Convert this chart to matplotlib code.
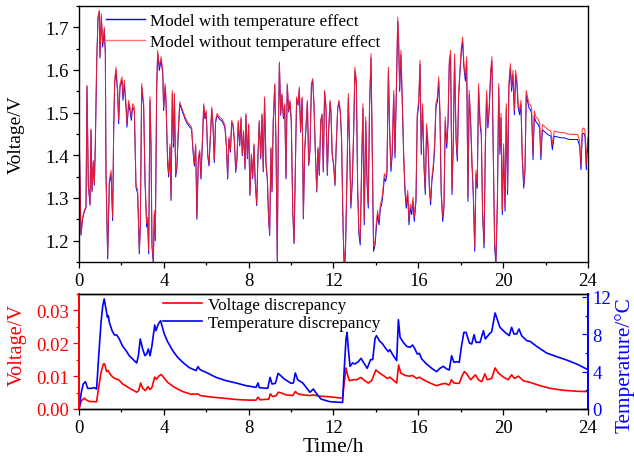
import numpy as np
import matplotlib
matplotlib.use("Agg")
from matplotlib import pyplot as plt
from matplotlib.ticker import MultipleLocator
from matplotlib.lines import Line2D

plt.rcParams['font.family'] = ['Liberation Serif', 'DejaVu Serif']
plt.rcParams['mathtext.fontset'] = 'stix'

# ---- top panel: model voltage ----
t_top = [
    0.0, 0.094, 0.173, 0.251, 0.330, 0.377, 0.440, 0.519, 0.566, 0.613, 0.676, 0.723, 0.770, 0.833, 0.896,
    0.959, 0.990, 1.053, 1.116, 1.194, 1.242, 1.273, 1.352, 1.430, 1.509, 1.587, 1.634, 1.682, 1.744, 1.823,
    1.870, 1.933, 2.027, 2.074, 2.137, 2.216, 2.263, 2.342, 2.405, 2.467, 2.530, 2.609, 2.687, 2.766, 2.845,
    2.892, 2.955, 3.049, 3.112, 3.190, 3.237, 3.285, 3.348, 3.395, 3.442, 3.505, 3.552, 3.599, 3.662, 3.709,
    3.788,
    3.87, 3.95, 3.99, 4.06, 4.10, 4.18, 4.23, 4.29, 4.34, 4.40, 4.46, 4.50, 4.56, 4.62, 4.68,
    4.75, 4.89, 5.00, 5.12, 5.25, 5.31, 5.38, 5.44, 5.50, 5.56, 5.63, 5.69, 5.75, 5.82, 5.88,
    5.94, 6.00, 6.07, 6.13, 6.19, 6.26, 6.32, 6.38, 6.44, 6.51, 6.62, 6.73, 6.82, 6.88, 6.95,
    7.01, 7.07, 7.14, 7.20, 7.26, 7.32, 7.39, 7.45, 7.51, 7.58, 7.64, 7.70, 7.76, 7.83,
    7.87, 7.94, 8.00, 8.06, 8.13, 8.19, 8.25, 8.31, 8.38, 8.44, 8.50, 8.57, 8.63, 8.69, 8.75,
    8.82, 8.88, 8.94, 8.99, 9.05, 9.10, 9.16, 9.23, 9.29, 9.35, 9.40, 9.45, 9.51, 9.57, 9.64,
    9.70, 9.76, 9.82, 9.89, 9.95, 10.01, 10.08, 10.14, 10.20, 10.26, 10.33, 10.39, 10.45, 10.52, 10.58,
    10.64, 10.70, 10.77, 10.83, 10.89, 10.96, 11.02, 11.08, 11.14, 11.21, 11.27, 11.33, 11.40, 11.46, 11.52,
    11.58, 11.65, 11.71, 11.77, 11.84,
    11.88, 11.94, 12.01, 12.07, 12.13, 12.20, 12.26, 12.32, 12.38, 12.45, 12.51, 12.57, 12.64, 12.70, 12.76,
    12.82, 12.89, 12.95, 13.01, 13.08, 13.14, 13.20, 13.26, 13.33, 13.39, 13.45, 13.52, 13.58, 13.64, 13.70,
    13.77, 13.83, 13.89, 13.96, 14.02, 14.08, 14.15, 14.21, 14.27, 14.33, 14.40, 14.46, 14.52, 14.59, 14.65,
    14.71, 14.77, 14.84, 14.90, 14.96, 15.03, 15.07, 15.12, 15.18, 15.25, 15.31, 15.37, 15.43, 15.50, 15.56,
    15.62, 15.69, 15.75, 15.81,
    15.89, 15.95, 16.02, 16.08, 16.14, 16.20, 16.27, 16.33, 16.39, 16.46, 16.52, 16.58, 16.64, 16.71, 16.77,
    16.83, 16.90, 16.96, 17.02, 17.08, 17.15, 17.21, 17.27, 17.34, 17.40, 17.46, 17.52, 17.59, 17.65, 17.71,
    17.78, 17.84, 17.90, 17.96, 18.03, 18.09, 18.15, 18.22, 18.28, 18.34, 18.40, 18.47, 18.53, 18.59, 18.66,
    18.72, 18.78, 18.84, 18.91, 18.97, 19.03, 19.10, 19.16, 19.22, 19.28, 19.35, 19.41, 19.47, 19.54, 19.60,
    19.66, 19.73, 19.79, 19.85,
    19.90, 19.96, 20.02, 20.09, 20.15, 20.21, 20.27, 20.34, 20.40, 20.46, 20.53, 20.59, 20.65, 20.71, 20.78,
    20.84, 20.90, 20.97, 21.03, 21.09, 21.15, 21.22, 21.28, 21.34, 21.41, 21.47, 21.53, 21.59, 21.66, 21.72,
    21.78, 21.85, 21.94, 22.10, 22.25, 22.32, 22.41, 22.57, 22.73, 22.88, 23.04, 23.20, 23.35, 23.51, 23.61,
    23.67, 23.73, 23.80, 23.86, 23.92, 23.98, 24.0,
]

v_no_temp = [
    1.478, 1.216, 1.255, 1.271, 1.280, 1.564, 1.333, 1.286, 1.462, 1.318, 1.388, 1.333, 1.427, 1.615, 1.724,
    1.740, 1.631, 1.732, 1.662, 1.701, 1.646, 1.365, 1.165, 1.341, 1.365, 1.255, 1.458, 1.576, 1.607, 1.552,
    1.482, 1.568, 1.584, 1.537, 1.576, 1.521, 1.474, 1.529, 1.513, 1.490, 1.521, 1.513, 1.333, 1.318, 1.177,
    1.240, 1.568, 1.521, 1.349, 1.240, 1.255, 1.177, 1.537, 1.427, 1.193, 1.154, 1.271, 1.208, 1.560, 1.646,
    1.607,
    1.631, 1.599, 1.513, 1.568, 1.537, 1.388, 1.357, 1.427, 1.302, 1.552, 1.427, 1.545, 1.357, 1.380, 1.458,
    1.525, 1.505, 1.490, 1.478, 1.470, 1.466, 1.412, 1.380, 1.427, 1.255, 1.396, 1.412, 1.349, 1.435, 1.521,
    1.490, 1.505, 1.404, 1.380, 1.443, 1.513, 1.474, 1.388, 1.482, 1.498, 1.490, 1.486, 1.478, 1.470, 1.427,
    1.349, 1.443, 1.412, 1.482, 1.474, 1.443, 1.365, 1.396, 1.482, 1.427, 1.490, 1.404, 1.458, 1.372,
    1.498, 1.396, 1.474, 1.310, 1.404, 1.349, 1.427, 1.341, 1.286, 1.404, 1.482, 1.396, 1.498, 1.365, 1.537,
    1.380, 1.349, 1.255, 1.216, 1.419, 1.318, 1.482, 1.568, 1.427, 1.154, 1.458, 1.619, 1.498, 1.545, 1.490,
    1.521, 1.349, 1.568, 1.505, 1.529, 1.482, 1.271, 1.197, 1.365, 1.537, 1.521, 1.560, 1.458, 1.537, 1.255,
    1.412, 1.466, 1.529, 1.380, 1.412, 1.568, 1.580, 1.521, 1.419, 1.318, 1.419, 1.357, 1.482, 1.498, 1.365,
    1.552, 1.513, 1.357, 1.458, 1.529,
    1.505, 1.404, 1.380, 1.333, 1.427, 1.513, 1.529, 1.505, 1.443, 1.240, 1.130, 1.193, 1.365, 1.545, 1.427,
    1.286, 1.349, 1.458, 1.607, 1.576, 1.326, 1.224, 1.200, 1.388, 1.521, 1.247, 1.490, 1.349, 1.286, 1.521,
    1.638, 1.404, 1.185, 1.200, 1.240, 1.271, 1.247, 1.286, 1.294, 1.318, 1.357, 1.349, 1.365, 1.607, 1.458,
    1.372, 1.412, 1.552, 1.404, 1.545, 1.724, 1.677, 1.560, 1.646, 1.521, 1.404, 1.326, 1.286, 1.318, 1.247,
    1.286, 1.271, 1.302, 1.255,
    1.302, 1.498, 1.529, 1.623, 1.412, 1.521, 1.380, 1.318, 1.474, 1.427, 1.333, 1.294, 1.349, 1.380, 1.427,
    1.521, 1.537, 1.584, 1.505, 1.318, 1.255, 1.286, 1.490, 1.427, 1.482, 1.623, 1.646, 1.318, 1.443, 1.638,
    1.443, 1.396, 1.545, 1.599, 1.654, 1.677, 1.615, 1.584, 1.631, 1.302, 1.552, 1.482, 1.388, 1.318, 1.185,
    1.365, 1.333, 1.568, 1.482, 1.458, 1.271, 1.193, 1.427, 1.552, 1.474, 1.521, 1.599, 1.631, 1.396, 1.193,
    1.154, 1.302, 1.568, 1.412,
    1.498, 1.271, 1.427, 1.279, 1.521, 1.318, 1.568, 1.615, 1.560, 1.599, 1.505, 1.599, 1.576, 1.521, 1.505,
    1.529, 1.404, 1.333, 1.372, 1.552, 1.537, 1.521, 1.519, 1.511, 1.402, 1.504, 1.492, 1.488, 1.484, 1.476,
    1.402, 1.472, 1.468, 1.461, 1.457, 1.425, 1.457, 1.455, 1.453, 1.453, 1.450, 1.449, 1.449, 1.449, 1.433,
    1.378, 1.461, 1.464, 1.457, 1.378, 1.441, 1.418,
]

v_temp = [
    1.475, 1.213, 1.252, 1.268, 1.277, 1.561, 1.330, 1.283, 1.459, 1.315, 1.385, 1.330, 1.424, 1.612, 1.721,
    1.737, 1.628, 1.724, 1.654, 1.693, 1.638, 1.357, 1.157, 1.333, 1.357, 1.247, 1.450, 1.568, 1.599, 1.544,
    1.474, 1.560, 1.576, 1.529, 1.568, 1.513, 1.466, 1.521, 1.505, 1.482, 1.513, 1.505, 1.325, 1.310, 1.169,
    1.232, 1.560, 1.513, 1.341, 1.232, 1.247, 1.169, 1.529, 1.419, 1.185, 1.146, 1.263, 1.200, 1.552, 1.638,
    1.599,
    1.623, 1.591, 1.505, 1.560, 1.529, 1.380, 1.349, 1.419, 1.294, 1.544, 1.419, 1.537, 1.349, 1.372, 1.450,
    1.520, 1.500, 1.485, 1.473, 1.465, 1.461, 1.407, 1.375, 1.422, 1.250, 1.391, 1.407, 1.344, 1.430, 1.516,
    1.485, 1.500, 1.399, 1.375, 1.438, 1.508, 1.469, 1.383, 1.477, 1.493, 1.485, 1.481, 1.473, 1.465, 1.422,
    1.344, 1.438, 1.407, 1.477, 1.469, 1.438, 1.360, 1.391, 1.477, 1.422, 1.485, 1.399, 1.453, 1.367,
    1.494, 1.392, 1.470, 1.306, 1.400, 1.345, 1.423, 1.337, 1.282, 1.400, 1.478, 1.392, 1.494, 1.361, 1.533,
    1.376, 1.345, 1.251, 1.212, 1.415, 1.314, 1.478, 1.564, 1.423, 1.150, 1.454, 1.615, 1.494, 1.541, 1.486,
    1.517, 1.345, 1.564, 1.501, 1.525, 1.478, 1.267, 1.193, 1.361, 1.533, 1.517, 1.556, 1.454, 1.533, 1.251,
    1.408, 1.462, 1.525, 1.376, 1.408, 1.564, 1.576, 1.517, 1.415, 1.314, 1.415, 1.353, 1.478, 1.494, 1.361,
    1.548, 1.509, 1.353, 1.454, 1.525,
    1.501, 1.400, 1.376, 1.329, 1.423, 1.509, 1.525, 1.501, 1.439, 1.236, 1.120, 1.183, 1.355, 1.535, 1.417,
    1.276, 1.339, 1.448, 1.597, 1.566, 1.316, 1.214, 1.190, 1.378, 1.511, 1.237, 1.480, 1.339, 1.276, 1.511,
    1.628, 1.394, 1.175, 1.190, 1.230, 1.261, 1.237, 1.276, 1.284, 1.308, 1.347, 1.339, 1.355, 1.597, 1.448,
    1.362, 1.402, 1.542, 1.394, 1.535, 1.714, 1.667, 1.550, 1.636, 1.511, 1.394, 1.316, 1.276, 1.308, 1.237,
    1.276, 1.261, 1.292, 1.245,
    1.292, 1.488, 1.519, 1.613, 1.402, 1.511, 1.370, 1.308, 1.464, 1.417, 1.323, 1.284, 1.339, 1.370, 1.417,
    1.511, 1.527, 1.574, 1.495, 1.308, 1.245, 1.276, 1.480, 1.417, 1.472, 1.613, 1.636, 1.308, 1.433, 1.628,
    1.433, 1.386, 1.535, 1.589, 1.644, 1.667, 1.605, 1.574, 1.621, 1.292, 1.542, 1.472, 1.378, 1.308, 1.175,
    1.355, 1.323, 1.558, 1.472, 1.448, 1.261, 1.183, 1.417, 1.542, 1.464, 1.511, 1.589, 1.621, 1.386, 1.183,
    1.144, 1.292, 1.558, 1.402,
    1.488, 1.261, 1.417, 1.269, 1.511, 1.308, 1.558, 1.605, 1.550, 1.589, 1.495, 1.589, 1.566, 1.511, 1.495,
    1.519, 1.394, 1.323, 1.362, 1.542, 1.527, 1.511, 1.507, 1.499, 1.390, 1.492, 1.480, 1.476, 1.472, 1.464,
    1.390, 1.460, 1.456, 1.449, 1.445, 1.413, 1.445, 1.443, 1.441, 1.441, 1.438, 1.437, 1.437, 1.437, 1.421,
    1.366, 1.449, 1.452, 1.445, 1.366, 1.429, 1.406,
]

# ---- bottom panel: temperature discrepancy (right axis) ----
t_temp = [
    0.0, 0.11, 0.20, 0.30, 0.41, 0.57, 0.72, 0.83, 0.93, 1.04, 1.12, 1.19, 1.27, 1.34, 1.38, 1.43, 1.56, 1.67,
    1.78, 1.90, 2.06, 2.22, 2.37, 2.53, 2.72, 2.80, 2.89, 3.00, 3.11, 3.19, 3.27, 3.35, 3.44, 3.57, 3.63, 3.74,
    3.85, 3.91, 4.02, 4.18, 4.42, 4.65, 4.89, 5.20, 5.52, 5.61, 5.71, 5.99, 6.46, 6.93, 7.40, 7.88, 8.35, 8.44,
    8.50, 8.90, 9.01, 9.10, 9.26, 9.39, 9.48, 9.68, 10.00, 10.11, 10.20, 10.31, 10.55, 10.71, 10.89, 11.05,
    11.18, 11.41, 11.81, 12.31, 12.43, 12.49, 12.59, 12.64, 12.70, 12.78, 12.90, 13.01, 13.17, 13.30, 13.41,
    13.59, 13.75, 13.85, 13.96, 14.03, 14.16, 14.32, 14.48, 14.59, 14.66, 14.82, 14.98, 15.06, 15.14, 15.29,
    15.45, 15.61, 15.73, 15.84, 15.95, 16.05, 16.16, 16.39, 16.63, 16.86, 17.02, 17.18, 17.34, 17.46, 17.57,
    17.68, 17.81, 17.93, 18.04, 18.15, 18.25, 18.41, 18.52, 18.63, 18.72, 18.91, 19.07, 19.16, 19.35, 19.46,
    19.54, 19.62, 19.73, 19.85, 20.09, 20.29, 20.40, 20.51, 20.64, 20.75, 20.87, 21.11, 21.27, 21.58, 22.05,
    22.52, 22.99, 23.47, 24.0,
]
temp_diff = [
    0.0, 1.79, 2.68, 2.93, 2.21, 2.21, 2.29, 2.14, 5.71, 9.29, 11.07, 11.79, 10.71, 9.82, 10.0, 9.29, 8.39, 7.93,
    7.93, 7.5, 6.71, 6.25, 5.71, 5.36, 4.93, 5.71, 7.5, 6.43, 5.71, 5.89, 6.43, 5.71, 6.79, 9.0, 8.39, 9.11,
    9.46, 8.93, 8.04, 7.21, 6.25, 5.54, 5.0, 4.43, 4.11, 4.54, 4.21, 3.93, 3.39, 3.04, 2.79, 2.5, 2.32, 2.79,
    2.29, 2.21, 3.39, 2.68, 2.75, 3.82, 3.64, 3.21, 2.75, 2.79, 3.86, 3.14, 2.79, 2.32, 1.79, 2.14,
    1.71, 1.07, 0.79, 0.71, 0.71, 3.57, 7.5, 8.21, 6.43, 4.57, 4.93, 4.82, 5.07, 5.43, 5.0,
    4.36, 5.29, 5.29, 7.57, 7.86, 7.32, 6.96, 6.43, 6.14, 6.36, 5.71, 5.18, 9.57, 7.68, 7.14,
    6.71, 6.61, 6.86, 6.43, 5.89, 5.96, 5.36, 4.82, 4.36, 4.0, 4.36, 4.57, 4.29, 4.18, 5.71,
    5.0, 5.07, 5.0, 6.79, 8.21, 8.21, 7.07, 6.96, 7.96, 7.14, 7.14, 8.39, 7.5, 8.04, 8.29,
    9.29, 10.29, 9.57, 8.75, 8.21, 7.86, 8.75, 8.04, 8.04, 8.57, 7.86, 7.32, 7.25, 6.71, 6.0,
    5.61, 5.25, 4.82, 4.21,
]

# ---- bottom panel: voltage discrepancy (left axis) ----
t_volt = [
    0.0, 0.11, 0.25, 0.33, 0.49, 0.83, 0.93, 1.04, 1.15, 1.21, 1.30, 1.37, 1.46, 1.59, 1.75, 1.87, 2.06, 2.37,
    2.72, 2.81, 2.91, 3.00, 3.13, 3.25, 3.35, 3.44, 3.57, 3.66, 3.76, 3.88, 3.98, 4.18, 4.50, 4.89, 5.28, 5.61,
    5.71, 6.15, 6.78, 7.40, 8.03, 8.35, 8.44, 8.54, 8.95, 9.02, 9.13, 9.29, 9.40, 9.53, 9.76, 10.08, 10.20,
    10.33, 10.55, 10.86, 11.05, 11.33, 11.83, 12.43, 12.49, 12.59, 12.65, 12.75, 12.93, 13.09, 13.30, 13.48,
    13.64, 13.80, 14.00, 14.16, 14.35, 14.54, 14.66, 14.85, 14.98, 15.07, 15.17, 15.37, 15.58, 15.73, 15.92,
    16.05, 16.24, 16.55, 16.86, 17.10, 17.26, 17.46, 17.56, 17.68, 17.93, 18.06, 18.17, 18.28, 18.47, 18.69,
    18.83, 18.99, 19.14, 19.25, 19.46, 19.62, 19.77, 20.01, 20.24, 20.40, 20.53, 20.72, 20.95, 21.27, 21.74,
    22.21, 22.84, 23.47, 24.0,
]
volt_diff = [
    0.0, 0.0025, 0.0033, 0.0028, 0.0023, 0.0022, 0.0066, 0.0112, 0.0137, 0.0137, 0.0114, 0.0117, 0.0107, 0.0097,
    0.0091, 0.0089, 0.0076, 0.0064, 0.0051, 0.0056, 0.0079, 0.0063, 0.0056, 0.0068, 0.0059, 0.0066, 0.0097,
    0.0091, 0.0100, 0.0105, 0.0097, 0.0081, 0.0066, 0.0053, 0.0045, 0.0046, 0.0041, 0.0037, 0.0033, 0.0029,
    0.0027, 0.0027, 0.0036, 0.0028, 0.0030, 0.0046, 0.0038, 0.0040, 0.0051, 0.0049, 0.0043, 0.0041, 0.0053,
    0.0046, 0.0043, 0.0041, 0.0043, 0.0039, 0.0037, 0.0033, 0.0071, 0.0125, 0.0107, 0.0086, 0.0089, 0.0089,
    0.0096, 0.0086, 0.0079, 0.0086, 0.0119, 0.0110, 0.0102, 0.0093, 0.0097, 0.0086, 0.0079, 0.0134, 0.0110,
    0.0102, 0.0100, 0.0102, 0.0093, 0.0097, 0.0089, 0.0079, 0.0071, 0.0076, 0.0078, 0.0073, 0.0089, 0.0079,
    0.0078, 0.0100, 0.0114, 0.0107, 0.0089, 0.0104, 0.0089, 0.0083, 0.0107, 0.0089, 0.0093, 0.0125, 0.0110,
    0.0097, 0.0089, 0.0104, 0.0093, 0.0100, 0.0086, 0.0081, 0.0071, 0.0063, 0.0057, 0.0054, 0.0053,
]

x_ticks = [0, 4, 8, 12, 16, 20, 24]

BLUE = '#0000ff'
RED = '#ff0000'
PINK = '#ff1e1e'
FS_TICK = 13.5
FS_LEG = 12.3

fig = plt.figure(figsize=(6.34, 4.60), dpi=100)

# ---------------- top panel ----------------
ax1 = fig.add_axes([0.1246, 0.4283, 0.8028, 0.5565])
ax1.plot(t_top, v_temp, color=BLUE, lw=0.7)
ax1.plot(t_top, v_no_temp, color=PINK, lw=0.75, alpha=0.88)
ax1.set_xlim(0, 24)
ax1.set_ylim(1.15, 1.75)
ax1.set_xticks(x_ticks)
ax1.xaxis.set_minor_locator(MultipleLocator(2))
ax1.yaxis.set_minor_locator(MultipleLocator(0.05))
ax1.set_yticks([1.2, 1.3, 1.4, 1.5, 1.6, 1.7])
ax1.tick_params(which='both', direction='out', top=False, right=False, labelsize=FS_TICK)
ax1.tick_params(which='major', length=4, width=0.9, pad=3)
ax1.tick_params(which='minor', length=2.5, width=0.9)
ax1.set_ylabel('Voltage/V', fontsize=14)
ax1.yaxis.set_label_coords(-0.106, 0.5)
for s in ax1.spines.values():
    s.set_linewidth(1.0)

leg1_handles = [Line2D([], [], color=BLUE, lw=1.0), Line2D([], [], color=PINK, lw=1.0, alpha=0.6)]
ax1.legend(leg1_handles, ['Model with temperature effect', 'Model without temperature effect'],
           loc='upper left', bbox_to_anchor=(0.053, 0.972), frameon=False, fontsize=FS_LEG,
           handlelength=2.3, handletextpad=0.3, labelspacing=0.3, borderpad=0, borderaxespad=0)

# ---------------- bottom panel ----------------
ax2 = fig.add_axes([0.1246, 0.1087, 0.8028, 0.25])
ax3 = ax2.twinx()
ax2.plot(t_volt, volt_diff, color=RED, lw=1.2)
ax3.plot(t_temp, temp_diff, color=BLUE, lw=1.2)

ax2.set_xlim(0, 24)
ax2.set_ylim(0, 0.035)
ax3.set_ylim(0, 12.32)
ax2.set_xticks(x_ticks)
ax2.xaxis.set_minor_locator(MultipleLocator(2))
ax2.set_yticks([0.0, 0.01, 0.02, 0.03])
ax2.yaxis.set_minor_locator(MultipleLocator(0.005))
ax2.yaxis.set_major_formatter(plt.FuncFormatter(lambda v, p: '%.2f' % v))
ax3.set_yticks([0, 4, 8, 12])
ax3.yaxis.set_minor_locator(MultipleLocator(2))

ax2.tick_params(which='both', direction='out', top=False, labelsize=FS_TICK)
ax2.tick_params(which='major', length=4, width=0.9, pad=3)
ax2.tick_params(which='minor', length=2.5, width=0.9)
ax2.tick_params(axis='y', which='both', colors=RED)
ax3.tick_params(which='both', direction='in', labelsize=FS_TICK, colors=BLUE)
ax3.tick_params(which='major', length=4, width=0.9, pad=3)
ax3.tick_params(which='minor', length=2.5, width=0.9)

ax2.spines['left'].set_color(RED)
ax3.spines['left'].set_color(RED)
ax3.spines['right'].set_color(BLUE)
ax2.spines['right'].set_color(BLUE)
for a in (ax2, ax3):
    for s in a.spines.values():
        s.set_linewidth(1.0)
    a.spines['left'].set_linewidth(1.3)
    a.spines['right'].set_linewidth(1.3)

ax2.set_ylabel('Voltage/V', color=RED, fontsize=14.7)
ax2.yaxis.set_label_coords(-0.102, 0.57)
ax3.set_ylabel('Temperature/\u00b0C', color=BLUE, fontsize=15.3)
ax3.yaxis.set_label_coords(1.053, 0.39)
ax2.set_xlabel('Time/h', fontsize=15.5)
ax2.xaxis.set_label_coords(0.5, -0.245)

leg2_handles = [Line2D([], [], color=RED, lw=1.2), Line2D([], [], color=BLUE, lw=1.2)]
ax3.legend(leg2_handles, ['Voltage discrepancy', 'Temperature discrepancy'],
           loc='upper left', bbox_to_anchor=(0.165, 0.975), frameon=False, fontsize=FS_LEG,
           handlelength=2.3, handletextpad=0.35, labelspacing=0.15, borderpad=0, borderaxespad=0)

fig.savefig('out.png', dpi=100)
